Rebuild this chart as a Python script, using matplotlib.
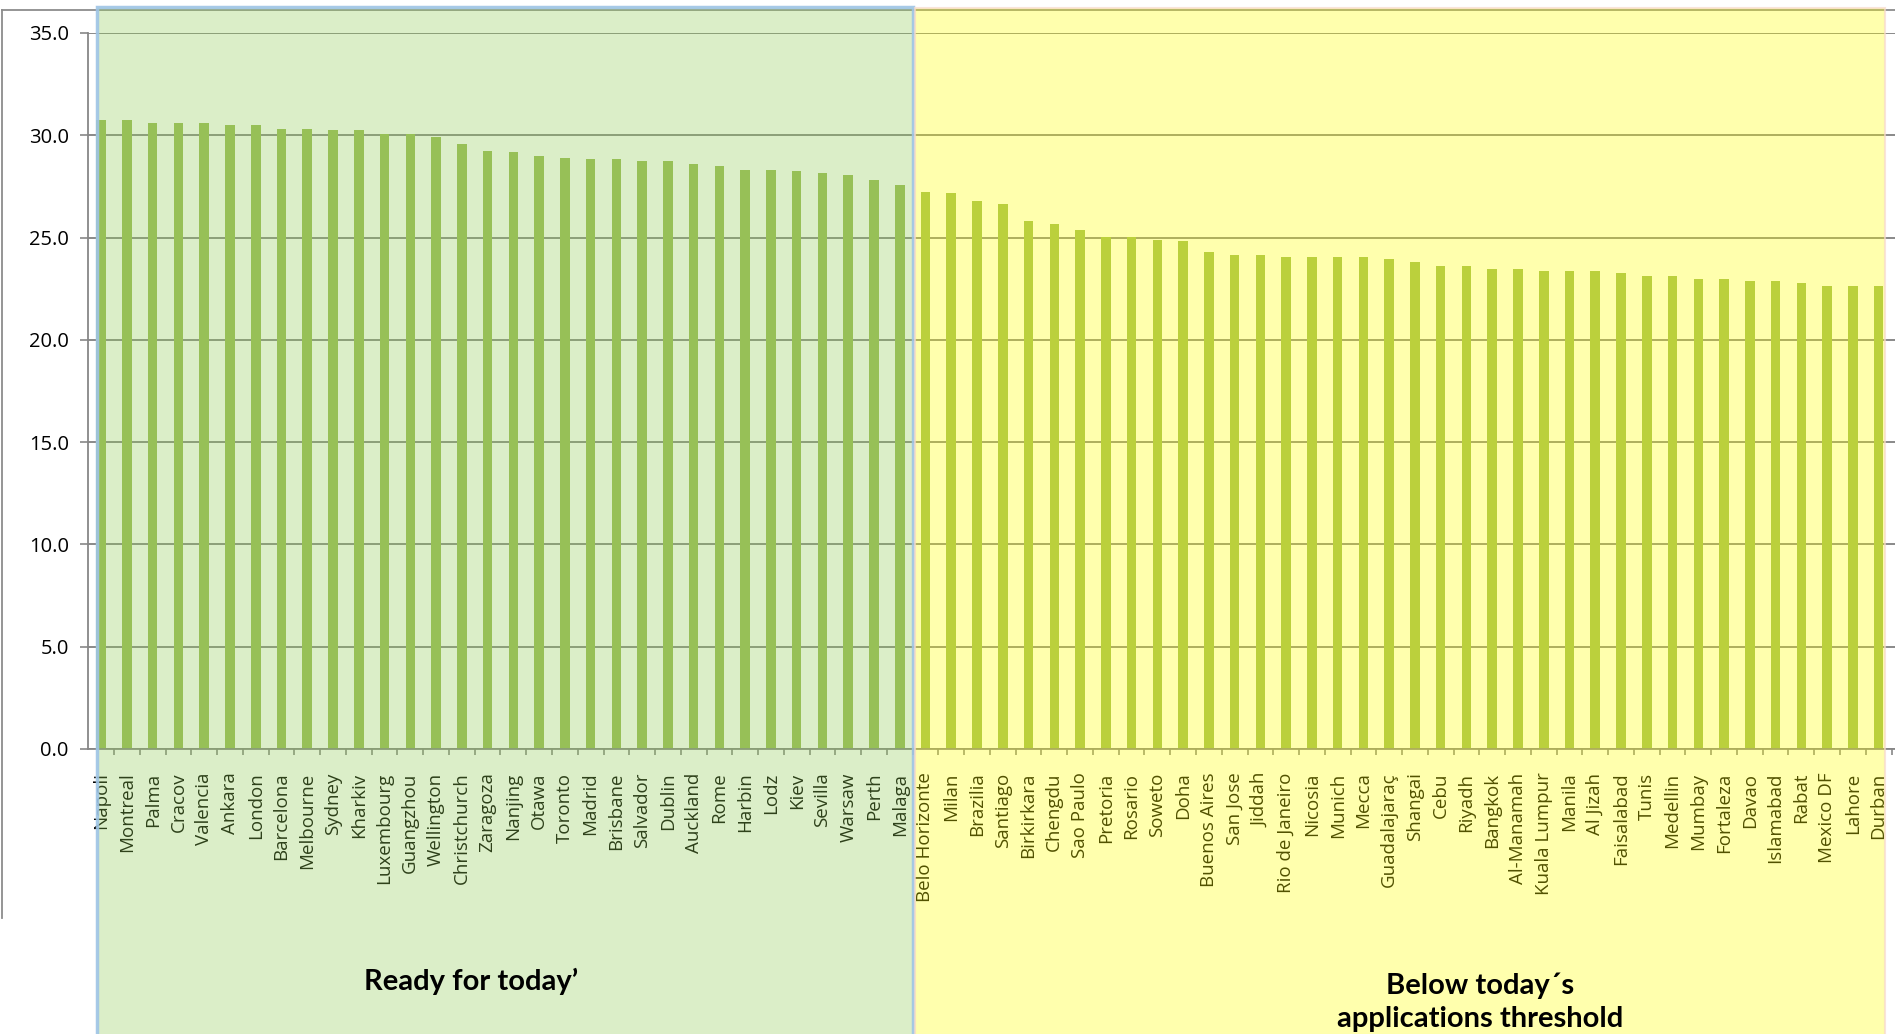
import matplotlib
matplotlib.use("Agg")
import matplotlib.pyplot as plt
from matplotlib.patches import Rectangle
from matplotlib.lines import Line2D
from matplotlib.ticker import FormatStrFormatter, FixedLocator

# cities that are ready
ready_cities = ["Napoli", "Montreal", "Palma", "Cracov", "Valencia", "Ankara", "London",
                "Barcelona", "Melbourne", "Sydney", "Kharkiv", "Luxembourg", "Guangzhou",
                "Wellington", "Christchurch", "Zaragoza", "Nanjing", "Otawa", "Toronto",
                "Madrid", "Brisbane", "Salvador", "Dublin", "Auckland", "Rome", "Harbin",
                "Lodz", "Kiev", "Sevilla", "Warsaw", "Perth", "Malaga"]
ready_values = [30.76, 30.76, 30.58, 30.58, 30.58, 30.50, 30.50, 30.32, 30.32, 30.25,
                30.25, 30.07, 30.07, 29.91, 29.58, 29.24, 29.16, 29.00, 28.90, 28.83,
                28.83, 28.75, 28.75, 28.59, 28.49, 28.31, 28.31, 28.25, 28.17, 28.07,
                27.82, 27.58]

# cities below the threshold
below_cities = ["Belo Horizonte", "Milan", "Brazilia", "Santiago", "Birkirkara", "Chengdu",
                "Sao Paulo", "Pretoria", "Rosario", "Soweto", "Doha", "Buenos Aires",
                "San Jose", "Jiddah", "Rio de Janeiro", "Nicosia", "Munich", "Mecca",
                "Guadalajaraç", "Shangai", "Cebu", "Riyadh", "Bangkok", "Al-Manamah",
                "Kuala Lumpur", "Manila", "Al Jizah", "Faisalabad", "Tunis", "Medellin",
                "Mumbay", "Fortaleza", "Davao", "Islamabad", "Rabat", "Mexico DF",
                "Lahore", "Durban"]
below_values = [27.24, 27.16, 26.81, 26.65, 25.80, 25.64, 25.38, 25.05, 25.05, 24.89,
                24.81, 24.30, 24.14, 24.14, 24.06, 24.06, 24.06, 24.06, 23.96, 23.80,
                23.63, 23.63, 23.47, 23.47, 23.37, 23.37, 23.37, 23.29, 23.13, 23.13,
                22.97, 22.97, 22.88, 22.88, 22.80, 22.64, 22.64, 22.64]

y_ticks = [0, 5, 10, 15, 20, 25, 30, 35]

cities = ready_cities + below_cities
values = ready_values + below_values

W, H = 1895, 1034
fig = plt.figure(figsize=(W / 100, H / 100), dpi=100)
fig.patch.set_facecolor("white")


def fx(px):
    return px / W


def fy(py):
    return 1 - py / H


ax = fig.add_axes([fx(88.3), fy(749), 1 - fx(88.3), fy(33) - fy(749)])
ax.set_facecolor("none")
x = list(range(len(cities)))
ax.bar(x, values, width=0.37, color="#9BBB59", zorder=2)

ax.set_xlim(-0.5, (W - 88.3) / 25.76 - 0.5)
ax.set_ylim(0, 35)
ax.set_yticks(y_ticks)
ax.yaxis.set_major_formatter(FormatStrFormatter("%.1f"))
ax.grid(axis="y", color="#808080", linewidth=1.3)
ax.set_axisbelow(True)

ax.set_xticks(x)
ax.set_xticklabels(cities, rotation=90, va="top", ha="center")
ax.xaxis.set_minor_locator(FixedLocator([i + 0.5 for i in range(len(cities))]))
ax.tick_params(axis="x", which="major", length=0, pad=17, labelsize=13.5, labelcolor="black")
ax.tick_params(axis="x", which="minor", length=4.5, color="#878787", width=1.2)
ax.tick_params(axis="y", length=6, color="#878787", width=1.2, labelsize=14.5, pad=8,
               labelcolor="black")
for lab in ax.get_xticklabels() + ax.get_yticklabels():
    lab.set_fontfamily("Open Sans")

for s in ["top", "right"]:
    ax.spines[s].set_visible(False)
for s in ["left", "bottom"]:
    ax.spines[s].set_color("#878787")
    ax.spines[s].set_linewidth(1.3)

# chart frame
fig.add_artist(Line2D([fx(2), fx(2)], [fy(10), fy(918)], color="#8c8c8c", lw=1.3))
fig.add_artist(Line2D([fx(2), 1], [fy(10), fy(10)], color="#8c8c8c", lw=1.3))

# shaded zones
fig.add_artist(Rectangle((fx(97), -0.02), fx(913) - fx(97), fy(7) + 0.02,
                         facecolor=(0.57, 0.80, 0.33, 0.32),
                         edgecolor=(0.62, 0.77, 0.90, 0.9), lw=2.5, zorder=5))
fig.add_artist(Rectangle((fx(915), -0.02), fx(1885) - fx(915), fy(8) + 0.02,
                         facecolor=(1.0, 1.0, 0.0, 0.32),
                         edgecolor=(0.97, 0.85, 0.80, 0.7), lw=1.5, zorder=5))

fig.text(fx(471), fy(981), "Ready for today\u2019", ha="center", va="center",
         fontsize=21, fontweight="bold", family="Lato", color="black", zorder=10)
fig.text(fx(1480), fy(1002), "Below today\u00b4s\napplications threshold", ha="center",
         va="center", fontsize=21, fontweight="bold", family="Lato", color="black",
         linespacing=1.35, zorder=10)

fig.savefig("out.png", dpi=100)
